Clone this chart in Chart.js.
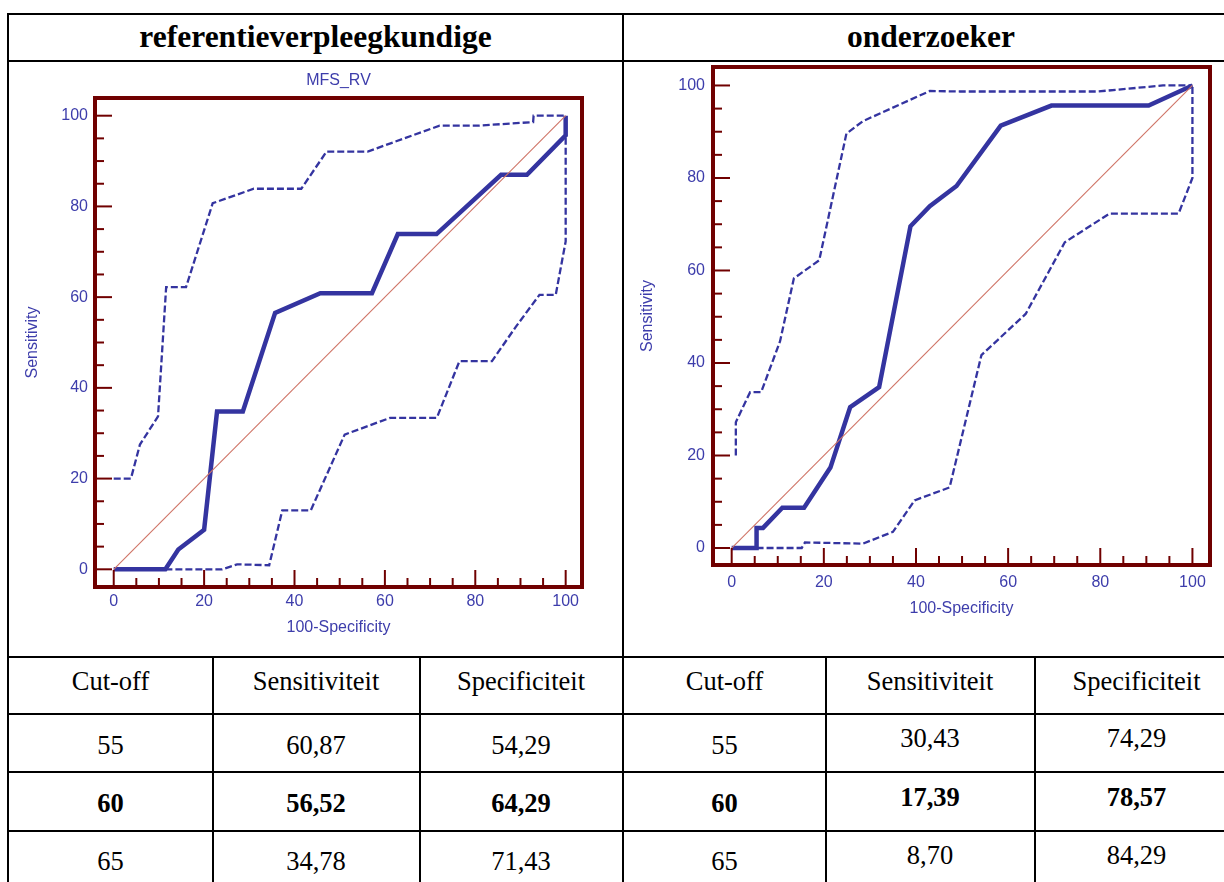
<!DOCTYPE html>
<html>
<head>
<meta charset="utf-8">
<script src="https://cdn.jsdelivr.net/npm/chart.js@4.4.1/dist/chart.umd.min.js"></script>
<style>
  html, body { margin: 0; padding: 0; background: #fff; }
  body { width: 1224px; height: 882px; overflow: hidden; position: relative;
         font-family: "Liberation Serif", "Times New Roman", serif; color: #000; }
  .rule { position: absolute; background: #000; }
  .cell { position: absolute; text-align: center; white-space: nowrap; height: 40px; line-height: 40px; }
  canvas { position: absolute; }
</style>
</head>
<body>
<canvas id="rv" width="612" height="594" style="left:10px;top:62px"></canvas>
<canvas id="oz" width="599" height="594" style="left:625px;top:62px"></canvas>
<script>
// ---- data -------------------------------------------------------------
const axisTicks  = [0, 20, 40, 60, 80, 100];
const minorTicks = [5, 10, 15, 25, 30, 35, 45, 50, 55, 65, 70, 75, 85, 90, 95];
const diagonalX = [0, 100];
const diagonalY = [0, 100];

// MFS_RV (referentieverpleegkundige): x = 100-Specificity, y = Sensitivity
const rvRocX   = [0, 11.43, 14.29, 20.00, 22.86, 28.57, 35.71, 45.71, 57.14, 62.86, 71.43, 85.71, 91.43, 100, 100];
const rvRocY   = [0, 0, 4.35, 8.70, 34.78, 34.78, 56.52, 60.87, 60.87, 73.91, 73.91, 86.96, 86.96, 95.65, 100];
const rvUpperX = [0, 3.8, 5.8, 9.8, 11.6, 16.0, 21.9, 31.0, 41.5, 47.1, 56.2, 72.1, 80.5, 92.8, 92.9, 100];
const rvUpperY = [20.0, 20.0, 27.5, 33.7, 62.2, 62.2, 80.7, 83.9, 83.9, 92.1, 92.1, 97.8, 97.8, 98.6, 100, 100];
const rvLowerX = [11.43, 24.0, 27.3, 34.4, 37.3, 43.6, 51.1, 61.2, 71.5, 76.5, 83.7, 89.0, 94.2, 97.8, 100, 100];
const rvLowerY = [0, 0, 1.1, 0.9, 13.0, 13.0, 29.7, 33.4, 33.4, 45.9, 45.9, 53.5, 60.5, 60.5, 72.3, 100];

// onderzoeker
const ozRocX   = [0, 5.4, 5.4, 6.8, 11.0, 15.71, 21.43, 25.71, 32.0, 38.8, 43.0, 48.8, 58.4, 69.4, 90.5, 100];
const ozRocY   = [0, 0, 4.35, 4.35, 8.70, 8.70, 17.39, 30.43, 34.78, 69.57, 73.91, 78.26, 91.30, 95.65, 95.65, 100];
const ozUpperX = [0.9, 0.9, 4.0, 6.4, 10.5, 13.5, 19.0, 24.9, 28.5, 43.0, 49.5, 79.5, 93.6, 100];
const ozUpperY = [20.0, 27.2, 33.7, 33.7, 44.7, 58.3, 62.2, 89.6, 92.3, 98.8, 98.7, 98.7, 100, 100];
const ozLowerX = [5.4, 15.2, 15.9, 28.5, 35.0, 39.7, 47.3, 54.2, 63.8, 72.3, 82.0, 97.0, 100, 100];
const ozLowerY = [0, 0, 1.2, 0.95, 3.5, 10.3, 13.1, 41.7, 50.6, 66.1, 72.3, 72.3, 80.0, 100];

// table
const groupTitles   = ['referentieverpleegkundige', 'onderzoeker'];
const tableHeaders  = ['Cut-off', 'Sensitiviteit', 'Specificiteit'];
const rvCutoffs     = ['55', '60', '65'];
const rvSensitivity = ['60,87', '56,52', '34,78'];
const rvSpecificity = ['54,29', '64,29', '71,43'];
const ozCutoffs     = ['55', '60', '65'];
const ozSensitivity = ['30,43', '17,39', '8,70'];
const ozSpecificity = ['74,29', '78,57', '84,29'];
const boldRow = 1;

// ---- table layout ------------------------------------------------------
const hRules = [13, 60, 656, 713, 771, 830];
const vRulesFull = [7, 622];
const vRulesLow = [212, 418.5, 824.5, 1033.5];
function rule(x, y, w, h) {
  const d = document.createElement('div');
  d.className = 'rule';
  Object.assign(d.style, { left: x + 'px', top: y + 'px', width: w + 'px', height: h + 'px' });
  document.body.appendChild(d);
}
hRules.forEach(y => rule(7, y, 1240, 2));
vRulesFull.forEach(x => rule(x, 13, 2, 900));
vRulesLow.forEach(x => rule(x, 656, 2, 240));

function cell(text, x1, x2, cy, size, bold) {
  const d = document.createElement('div');
  d.className = 'cell';
  d.textContent = text;
  Object.assign(d.style, {
    left: x1 + 'px', width: (x2 - x1) + 'px', top: (cy - 20) + 'px',
    fontSize: size + 'px', fontWeight: bold ? 'bold' : 'normal'
  });
  document.body.appendChild(d);
}
cell(groupTitles[0], 9, 622, 37, 31.5, true);
cell(groupTitles[1], 624, 1238, 37, 31.5, true);

const leftCols  = [[9, 212], [214, 418], [420, 622]];
const rightCols = [[624, 825], [827, 1033], [1035, 1238]];
const headY = 681;
const rowY = [744.5, 803, 861];
const rightShift = -6.5;
tableHeaders.forEach((t, i) => {
  cell(t, leftCols[i][0], leftCols[i][1], headY, 26.5, false);
  cell(t, rightCols[i][0], rightCols[i][1], headY, 26.5, false);
});
[rvCutoffs, rvSensitivity, rvSpecificity].forEach((col, c) => {
  col.forEach((t, r) => cell(t, leftCols[c][0], leftCols[c][1], rowY[r], 26.5, r === boldRow));
});
[ozCutoffs, ozSensitivity, ozSpecificity].forEach((col, c) => {
  col.forEach((t, r) => cell(t, rightCols[c][0], rightCols[c][1], rowY[r] + (c === 0 ? 0 : rightShift), 26.5, r === boldRow));
});

// ---- charts --------------------------------------------------------------
const BLUE = '#3434a0';
const TEXT = '#3d3dab';
const MAROON = '#700000';
const DIAG = '#cf7466';
const FONT = '"Liberation Sans", Arial, sans-serif';
const tickFont = { family: FONT, size: 16 };

const pts = (xs, ys) => xs.map((x, i) => ({ x, y: ys[i] }));

// frame, inward tick marks and the small chart caption
const rocFrame = {
  id: 'rocFrame',
  afterDatasetsDraw(chart, args, opts) {
    const { ctx, chartArea: a } = chart;
    const xs = chart.scales.x, ys = chart.scales.y;
    ctx.save();
    ctx.strokeStyle = MAROON;
    ctx.lineCap = 'butt';
    ctx.lineWidth = 2;
    const seg = (x1, y1, x2, y2) => { ctx.beginPath(); ctx.moveTo(x1, y1); ctx.lineTo(x2, y2); ctx.stroke(); };
    const mark = (v, len) => {
      const py = ys.getPixelForValue(v), px = xs.getPixelForValue(v);
      seg(a.left, py, a.left + len, py);
      seg(px, a.bottom, px, a.bottom - len);
    };
    minorTicks.forEach(v => mark(v, opts.minor));
    axisTicks.forEach(v => mark(v, opts.major));
    ctx.lineWidth = 4;
    ctx.strokeRect(a.left - 2, a.top - 2, a.right - a.left + 4, a.bottom - a.top + 4);
    if (opts.caption) {
      ctx.fillStyle = TEXT;
      ctx.font = '16px ' + FONT;
      ctx.textAlign = 'center';
      ctx.textBaseline = 'middle';
      ctx.fillText(opts.caption, (a.left + a.right) / 2, opts.captionY);
    }
    ctx.restore();
  }
};

function rocChart(id, g, roc, upper, lower) {
  const zeroPad = s => { s.paddingTop = 0; s.paddingBottom = 0; s.paddingLeft = 0; s.paddingRight = 0; };
  const fixedTicks = s => { s.ticks = axisTicks.map(v => ({ value: v })); };
  return new Chart(document.getElementById(id), {
    type: 'line',
    data: {
      datasets: [
        { data: pts(diagonalX, diagonalY), borderColor: DIAG, borderWidth: 1.1, order: 0 },
        { data: roc, borderColor: BLUE, borderWidth: 4.5, order: 1 },
        { data: upper, borderColor: BLUE, borderWidth: 2.3, borderDash: [7, 3], order: 2 },
        { data: lower, borderColor: BLUE, borderWidth: 2.3, borderDash: [7, 3], order: 2 }
      ]
    },
    options: {
      responsive: false,
      animation: false,
      events: [],
      elements: {
        point: { radius: 0 },
        line: { tension: 0, fill: false, borderJoinStyle: 'miter', borderCapStyle: 'butt' }
      },
      layout: { padding: { left: 0, top: g.top, right: g.right, bottom: 0 } },
      scales: {
        x: {
          type: 'linear', min: g.xMin, max: g.xMax,
          afterBuildTicks: fixedTicks,
          afterFit: s => { s.height = g.xHeight; zeroPad(s); },
          grid: { display: false, drawTicks: false },
          border: { display: false },
          ticks: { color: TEXT, font: tickFont, padding: g.xTickPad, maxRotation: 0, autoSkip: false },
          title: { display: true, text: '100-Specificity', color: TEXT, font: tickFont,
                   padding: { top: 0, bottom: g.xTitlePad } }
        },
        y: {
          type: 'linear', min: g.yMin, max: g.yMax,
          afterBuildTicks: fixedTicks,
          afterFit: s => { s.width = g.yWidth; zeroPad(s); },
          grid: { display: false, drawTicks: false },
          border: { display: false },
          ticks: { color: TEXT, font: tickFont, padding: g.yTickPad, autoSkip: false },
          title: { display: true, text: 'Sensitivity', color: TEXT, font: tickFont,
                   padding: { top: g.yTitlePad, bottom: 0 } }
        }
      },
      plugins: {
        legend: { display: false },
        tooltip: { enabled: false },
        rocFrame: { major: 15, minor: 7, caption: g.caption, captionY: g.captionY }
      }
    },
    plugins: [rocFrame]
  });
}

rocChart('rv', {
  top: 38, right: 42, yWidth: 87, xHeight: 71,
  xMin: -3.70, xMax: 103.17, yMin: -3.46, yMax: 103.46,
  xTickPad: 7, yTickPad: 9, xTitlePad: 19, yTitlePad: 13,
  caption: 'MFS_RV', captionY: 19
}, pts(rvRocX, rvRocY), pts(rvUpperX, rvUpperY), pts(rvLowerX, rvLowerY));

rocChart('oz', {
  top: 7, right: 16, yWidth: 90, xHeight: 93,
  xMin: -3.62, xMax: 103.38, yMin: -3.24, yMax: 103.56,
  xTickPad: 9.5, yTickPad: 10, xTitlePad: 38, yTitlePad: 13,
  caption: '', captionY: 0
}, pts(ozRocX, ozRocY), pts(ozUpperX, ozUpperY), pts(ozLowerX, ozLowerY));
</script>
</body>
</html>
